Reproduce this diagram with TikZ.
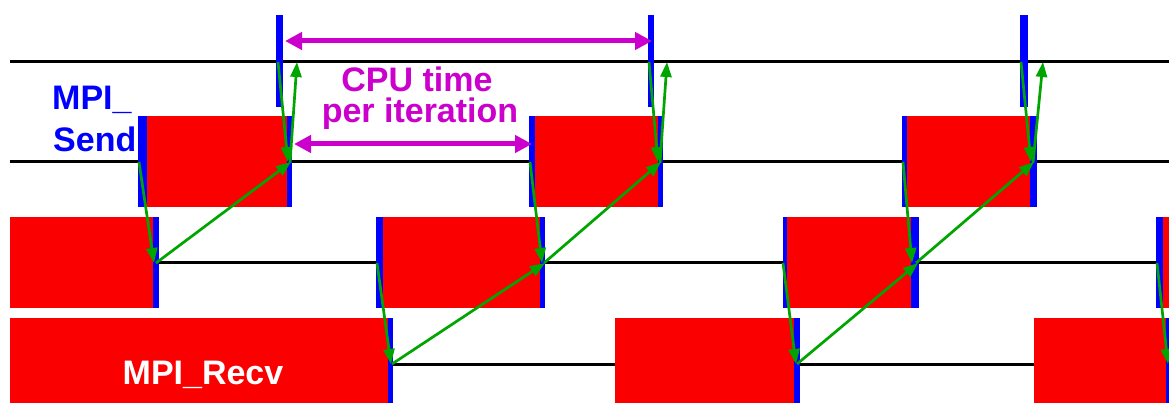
\documentclass[tikz,border=0pt]{standalone}
\usepackage{fontspec}
\setmainfont{Liberation Sans}
\usetikzlibrary{arrows.meta,fit}
\definecolor{boxred}{RGB}{250,0,0}
\definecolor{barblue}{RGB}{0,0,255}
\definecolor{msggreen}{RGB}{0,165,0}
\definecolor{cpumag}{RGB}{204,0,204}
\begin{document}
\begin{tikzpicture}[x=1pt,y=-1pt,
  timeline/.style={line width=3pt,black},
  redbox/.style={fill=boxred,draw=none,inner sep=0pt,outer sep=0pt},
  bluebar/.style={fill=barblue,draw=none,inner sep=0pt,outer sep=0pt},
  msg/.style={line width=2.7pt,msggreen,-{Triangle[length=15pt,width=11pt]}},
  cpuarrow/.style={line width=5pt,cpumag,{Triangle[length=17pt,width=17pt]}-{Triangle[length=17pt,width=17pt]}},
  lbl/.style={inner sep=0pt,font=\bfseries\fontsize{34}{34}\selectfont}]
\useasboundingbox (0,0) rectangle (1169,403);
% time lines
\coordinate (l0s) at (10,62);  \coordinate (l0e) at (1169,62);
\coordinate (l1s) at (10,162); \coordinate (l1e) at (1169,162);
\coordinate (l2s) at (10,263); \coordinate (l2e) at (1169,263);
\coordinate (l3s) at (10,364); \coordinate (l3e) at (1169,364);
\draw[timeline] (l0s) -- (l0e);
\draw[timeline] (l1s) -- (l1e);
\draw[timeline] (l2s) -- (l2e);
\draw[timeline] (l3s) -- (l3e);
% row 1 boxes
\node[redbox,fit={(138,116) (292,207)}] (r1a) {};
\node[redbox,fit={(529,116) (663,207)}] (r1b) {};
\node[redbox,fit={(902,116) (1037,207)}] (r1c) {};
% row 2 boxes
\node[redbox,fit={(10,217) (159,308)}] (r2a) {};
\node[redbox,fit={(376,217) (545,308)}] (r2b) {};
\node[redbox,fit={(783,217) (919,308)}] (r2c) {};
\node[redbox,fit={(1156,217) (1169,308)}] (r2d) {};
% row 3 boxes
\node[redbox,fit={(10,318) (393,403)}] (r3a) {};
\node[redbox,fit={(615,318) (800,403)}] (r3b) {};
\node[redbox,fit={(1034,318) (1169,403)}] (r3c) {};
% blue bars
\node[bluebar,fit={(276,15) (283,107)}] (b0a) {};
\node[bluebar,fit={(648,15) (654,107)}] (b0b) {};
\node[bluebar,fit={(1020,15) (1028,107)}] (b0c) {};
\node[bluebar,fit={(138,116) (147,207)}] (b1a1) {};
\node[bluebar,fit={(287,116) (292,207)}] (b1a2) {};
\node[bluebar,fit={(529,116) (535,207)}] (b1b1) {};
\node[bluebar,fit={(658,116) (663,207)}] (b1b2) {};
\node[bluebar,fit={(902,116) (907,207)}] (b1c1) {};
\node[bluebar,fit={(1030,116) (1037,207)}] (b1c2) {};
\node[bluebar,fit={(153,217) (159,308)}] (b2a2) {};
\node[bluebar,fit={(376,217) (383,308)}] (b2b1) {};
\node[bluebar,fit={(540,217) (545,308)}] (b2b2) {};
\node[bluebar,fit={(783,217) (787,308)}] (b2c1) {};
\node[bluebar,fit={(911,217) (919,308)}] (b2c2) {};
\node[bluebar,fit={(1156,217) (1163,308)}] (b2d1) {};
\node[bluebar,fit={(388,318) (393,403)}] (b3a2) {};
\node[bluebar,fit={(794,318) (800,403)}] (b3b2) {};
\node[bluebar,fit={(1166,318) (1169,403)}] (b3c2) {};
% message end points
\coordinate (d1s) at (278,62);   \coordinate (d1e) at (288,162);
\coordinate (d2s) at (139,162);  \coordinate (d2e) at (154,263);
\coordinate (d3s) at (377,263);  \coordinate (d3e) at (391,364);
\coordinate (d4s) at (649,62);   \coordinate (d4e) at (658,162);
\coordinate (d5s) at (530,162);  \coordinate (d5e) at (542,263);
\coordinate (d6s) at (783,263);  \coordinate (d6e) at (796,364);
\coordinate (d7s) at (1021,62);  \coordinate (d7e) at (1031,162);
\coordinate (d8s) at (903,162);  \coordinate (d8e) at (912,263);
\coordinate (d9s) at (1157,263); \coordinate (d9e) at (1168,364);
\coordinate (u1s) at (290,163);  \coordinate (u1e) at (297,62);
\coordinate (u2s) at (156,263);  \coordinate (u2e) at (291,162);
\coordinate (u3s) at (392,364);  \coordinate (u3e) at (545,263);
\coordinate (u4s) at (660,163);  \coordinate (u4e) at (667,62);
\coordinate (u5s) at (544,263);  \coordinate (u5e) at (661,162);
\coordinate (u6s) at (797,364);  \coordinate (u6e) at (918,263);
\coordinate (u7s) at (1033,163); \coordinate (u7e) at (1043,62);
\coordinate (u8s) at (916,263);  \coordinate (u8e) at (1034,162);
\foreach \m in {d1,d2,d3,d4,d5,d6,d7,d8,d9,u1,u2,u3,u4,u5,u6,u7,u8}
  \draw[msg] (\m s) -- (\m e);
% CPU time arrows
\coordinate (c1s) at (285,41); \coordinate (c1e) at (652,41);
\coordinate (c2s) at (294,144); \coordinate (c2e) at (532,144);
\draw[cpuarrow] (c1s) -- (c1e);
\draw[cpuarrow] (c2s) -- (c2e);
% labels
\node[lbl,anchor=base west,text=barblue] (lmpi) at (52,110) {MPI\_};
\node[lbl,anchor=base west,text=barblue] (lsend) at (53,152) {Send};
\node[lbl,anchor=base,text=cpumag] (lcpu1) at (417,92) {CPU time};
\node[lbl,anchor=base,text=cpumag] (lcpu2) at (420,123) {per iteration};
\node[lbl,anchor=base,text=white] (lrecv) at (203,384) {MPI\_Recv};
\end{tikzpicture}
\end{document}
